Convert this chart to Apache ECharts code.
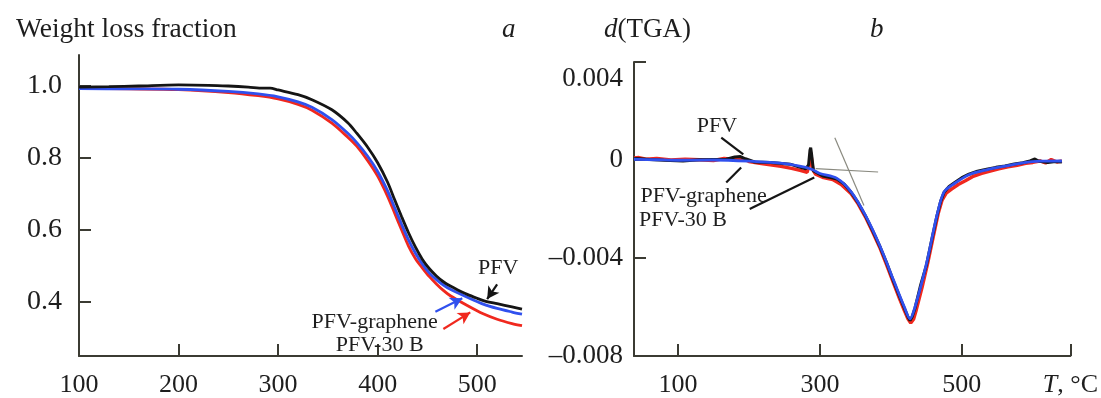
<!DOCTYPE html>
<html><head><meta charset="utf-8">
<script src="https://cdn.jsdelivr.net/npm/echarts@6/dist/echarts.min.js"></script>
<style>html,body{margin:0;padding:0;background:#fff}#c{width:1101px;height:398px}</style>
</head><body><div id="c"></div>
<script>
// ---------- Panel a: weight loss fraction vs T ----------
const aTicksX = [100, 200, 300, 400, 500];
const aTicksY = [0.4, 0.6, 0.8, 1.0];
const aBlackT = [100,130,160,200,230,250,270,285,292,300,320,334,354,370,379,390,400,410,417,424,431,438,445,452,459,466,473,480,490,500,507,520,535,545];
const aBlackW = [0.996,0.997,0.999,1.002,1.001,0.999,0.996,0.993,0.993,0.988,0.975,0.961,0.933,0.897,0.868,0.829,0.786,0.732,0.684,0.637,0.592,0.552,0.518,0.492,0.472,0.456,0.444,0.434,0.421,0.410,0.403,0.395,0.386,0.380];
const aBlueT = [100,150,200,250,280,300,320,334,354,370,379,390,400,410,417,424,431,438,445,452,459,466,473,490,506,520,535,545];
const aBlueW = [0.992,0.991,0.990,0.984,0.977,0.969,0.955,0.940,0.906,0.868,0.842,0.804,0.762,0.708,0.662,0.616,0.572,0.535,0.505,0.480,0.462,0.447,0.435,0.413,0.394,0.382,0.372,0.366];
const aRedT = [100,150,200,250,280,300,320,334,354,370,379,390,400,410,417,424,431,438,445,452,459,466,473,490,506,520,535,545];
const aRedW = [0.992,0.991,0.989,0.981,0.972,0.963,0.948,0.932,0.896,0.857,0.832,0.792,0.749,0.693,0.647,0.600,0.555,0.520,0.494,0.470,0.450,0.432,0.417,0.390,0.367,0.352,0.340,0.334];
// annotation labels and arrows (data coordinates)
const aLabels = [['PFV', 521, 0.494], ['PFV-graphene', 397, 0.344], ['PFV-30 B', 402, 0.279]];
const aArrowBlack = [[520, 0.449], [510, 0.408]];
const aArrowBlue = [[458, 0.373], [485, 0.410]];
const aArrowRed = [[466, 0.325], [493, 0.371]];

// ---------- Panel b: d(TGA) vs T ----------
const bTicksX = [100, 300, 500, 653];
const bLabelsX = [100, 300, 500, 653];
const bBlackT = [38,42,60,80,107,130,150,168,180,188,195,208,230,258,270,280,284,286,287,288,290,291,304,315,324,334,344,354,364,374,384,394,404,412,419,424,427,430,434,442,450,458,465,470,475,482,490,500,510,522,535,548,561,574,586,596,603,608,621,632,641];
const bBlackV = [0.00005,0.00006,0.00002,-0.00001,-0.00004,0.00001,0.00002,0.00003,0.00012,0.00014,0.00005,-0.00008,-0.00010,-0.00017,-0.00028,-0.00036,-0.00020,0.00040,0.00050,0.00030,-0.00020,-0.00045,-0.00065,-0.00072,-0.00078,-0.00098,-0.00132,-0.00175,-0.00227,-0.00286,-0.00349,-0.00420,-0.00497,-0.00555,-0.00605,-0.00640,-0.00655,-0.00640,-0.00605,-0.00510,-0.00430,-0.00320,-0.00227,-0.00170,-0.00132,-0.00108,-0.00092,-0.00072,-0.00058,-0.00046,-0.00038,-0.00030,-0.00024,-0.00016,-0.00011,-0.00004,0.00004,-0.00004,-0.00010,-0.00006,-0.00008];
const bRedT = [38,45,55,70,90,110,130,150,165,180,190,200,215,230,245,260,272,282,286,287,288,290,294,305,318,330,344,354,364,374,384,394,404,412,419,424,428,432,436,444,452,460,467,472,478,486,495,505,515,528,540,552,565,578,590,600,610,618,626,634,641];
const bRedV = [0.00008,0.00010,0.00003,0.00006,0.00000,0.00003,0.00001,-0.00002,0.00006,0.00002,0.00008,-0.00006,-0.00014,-0.00020,-0.00026,-0.00034,-0.00042,-0.00050,-0.00010,0.00030,0.00010,-0.00040,-0.00058,-0.00072,-0.00080,-0.00100,-0.00138,-0.00180,-0.00232,-0.00292,-0.00355,-0.00428,-0.00505,-0.00565,-0.00615,-0.00648,-0.00665,-0.00650,-0.00610,-0.00520,-0.00420,-0.00310,-0.00215,-0.00165,-0.00135,-0.00118,-0.00100,-0.00085,-0.00068,-0.00055,-0.00045,-0.00036,-0.00028,-0.00022,-0.00014,-0.00010,-0.00004,-0.00012,0.00002,-0.00008,-0.00004];
const bBlueT = [38,70,100,150,200,250,280,290,300,324,344,364,384,404,419,427,434,450,465,475,490,510,535,561,586,610,641];
const bBlueV = [0.00003,0.00001,-0.00001,0.00000,-0.00005,-0.00015,-0.00030,-0.00040,-0.00055,-0.00075,-0.00130,-0.00225,-0.00347,-0.00492,-0.00600,-0.00648,-0.00600,-0.00425,-0.00225,-0.00130,-0.00095,-0.00060,-0.00040,-0.00025,-0.00012,-0.00005,-0.00004];
const bLabels = [['PFV', 155, 0.00138], ['PFV-graphene', 136, -0.00147], ['PFV-30 B', 107, -0.00244]];
const bLinePFV = [[161, 0.00091], [192, 0.00023]];
const bLineGraphene = [[189, -0.00031], [168, -0.00092]];
const bLine30B = [[201, -0.00200], [292, -0.00071]];
const bTangent1 = [[294, -0.00035], [382, -0.00049]];
const bTangent2 = [[321, 0.00091], [362, -0.00186]];

const FONT = 'Liberation Serif';
const AX = '#3b3b33';
const TXT = '#1e1e1e';
const BLACK = '#151515', RED = '#f0281e', BLUE = '#3050ee';

const zip = (t, v) => t.map((x, i) => [x, v[i]]);
const arrowLine = (pts, color, arrow) => ({
  silent: true, symbol: ['none', arrow ? 'arrow' : 'none'], symbolSize: [10, 12],
  label: {show: false}, lineStyle: {color: color, width: 2.2, type: 'solid'},
  data: [[{coord: pts[0]}, {coord: pts[1]}]]
});
const textPoints = (labels) => ({
  silent: true, symbol: 'circle', symbolSize: 0,
  label: {show: true, position: 'inside', color: TXT, fontFamily: FONT, fontSize: 22, formatter: p => p.name},
  data: labels.map(l => ({name: l[0], coord: [l[1], l[2]]}))
});
const dash = v => String(v).replace('-', '\u2013');
const segment = (pts, color, width) => [{coord: pts[0], lineStyle: {color: color, width: width, type: 'solid'}}, {coord: pts[1]}];

const chart = echarts.init(document.getElementById('c'), null, {renderer: 'canvas'});
chart.setOption({
  backgroundColor: '#fff',
  animation: false,
  title: [
    {text: 'Weight loss fraction', left: 11, top: 11, textStyle: {fontFamily: FONT, fontSize: 27.5, fontWeight: 'normal', color: TXT}},
    {text: 'a', left: 497, top: 11, textStyle: {fontFamily: FONT, fontSize: 27, fontStyle: 'italic', fontWeight: 'normal', color: TXT}},
    {text: '{i|d}(TGA)', left: 599, top: 11, textStyle: {fontFamily: FONT, fontSize: 27, fontWeight: 'normal', color: TXT,
      rich: {i: {fontFamily: FONT, fontSize: 27, fontStyle: 'italic', color: TXT}}}},
    {text: 'b', left: 865, top: 11, textStyle: {fontFamily: FONT, fontSize: 27, fontStyle: 'italic', fontWeight: 'normal', color: TXT}}
  ],
  grid: [
    {left: 79, top: 55, width: 443, height: 302},
    {left: 634, top: 62, width: 438, height: 296}
  ],
  xAxis: [
    {type: 'value', gridIndex: 0, min: 100, max: 545,
      axisLine: {show: true, onZero: false, lineStyle: {color: AX, width: 2}},
      axisTick: {show: true, inside: true, length: 12, customValues: aTicksX.slice(1), lineStyle: {color: AX, width: 2}},
      axisLabel: {customValues: aTicksX, margin: 16, fontFamily: FONT, fontSize: 26, color: TXT},
      splitLine: {show: false}},
    {type: 'value', gridIndex: 1, min: 38, max: 653,
      axisLine: {show: true, onZero: false, lineStyle: {color: AX, width: 2}},
      axisTick: {show: true, inside: true, length: 12, customValues: bTicksX, lineStyle: {color: AX, width: 2}},
      axisLabel: {customValues: bLabelsX, margin: 16, fontFamily: FONT, fontSize: 26, color: TXT,
        formatter: v => v === 653 ? '{i|T}, \u00b0C' : String(v),
        rich: {i: {fontFamily: FONT, fontSize: 26, fontStyle: 'italic', color: TXT}}},
      splitLine: {show: false}}
  ],
  yAxis: [
    {type: 'value', gridIndex: 0, min: 0.25, max: 1.085,
      axisLine: {show: true, onZero: false, lineStyle: {color: AX, width: 2}},
      axisTick: {show: true, inside: true, length: 12, customValues: aTicksY, lineStyle: {color: AX, width: 2}},
      axisLabel: {customValues: aTicksY, margin: 17, fontFamily: FONT, fontSize: 28, color: TXT, formatter: v => v.toFixed(1)},
      splitLine: {show: false}},
    {type: 'value', gridIndex: 1, min: -0.008, max: 0.004, interval: 0.004,
      axisLine: {show: true, onZero: false, lineStyle: {color: AX, width: 2}},
      axisTick: {show: true, inside: true, length: 12, lineStyle: {color: AX, width: 2}},
      axisLabel: {margin: 11, fontFamily: FONT, fontSize: 27, color: TXT,
        formatter: v => {
          if (Math.abs(v) < 1e-9) return '0';
          const s = dash(v.toFixed(3));
          return v > 0 ? '{lo|' + s + '}' : s;
        },
        rich: {lo: {fontFamily: FONT, fontSize: 27, color: TXT, padding: [34, 0, 0, 0]}}},
      splitLine: {show: false}}
  ],
  series: [
    {name: 'PFV-30 B a', type: 'line', xAxisIndex: 0, yAxisIndex: 0, data: zip(aRedT, aRedW), showSymbol: false, smooth: 0.3,
      lineStyle: {color: RED, width: 2.8}, markLine: arrowLine(aArrowRed, RED, true)},
    {name: 'PFV-graphene a', type: 'line', xAxisIndex: 0, yAxisIndex: 0, data: zip(aBlueT, aBlueW), showSymbol: false, smooth: 0.3,
      lineStyle: {color: BLUE, width: 2.8}, markLine: arrowLine(aArrowBlue, BLUE, true)},
    {name: 'PFV a', type: 'line', xAxisIndex: 0, yAxisIndex: 0, data: zip(aBlackT, aBlackW), showSymbol: false, smooth: 0.3,
      lineStyle: {color: BLACK, width: 2.8}, markLine: arrowLine(aArrowBlack, BLACK, true), markPoint: textPoints(aLabels)},

    {name: 'PFV-30 B b', type: 'line', xAxisIndex: 1, yAxisIndex: 1, data: zip(bRedT, bRedV), showSymbol: false,
      lineStyle: {color: RED, width: 3.4}},
    {name: 'PFV b', type: 'line', xAxisIndex: 1, yAxisIndex: 1, data: zip(bBlackT, bBlackV), showSymbol: false,
      lineStyle: {color: BLACK, width: 3}, markPoint: textPoints(bLabels)},
    {name: 'PFV-graphene b', type: 'line', xAxisIndex: 1, yAxisIndex: 1, data: zip(bBlueT, bBlueV), showSymbol: false, smooth: 0.3,
      lineStyle: {color: BLUE, width: 2.8}},
    {name: 'annotations b', type: 'line', xAxisIndex: 1, yAxisIndex: 1, data: [], showSymbol: false,
      markLine: {silent: true, symbol: ['none', 'none'], label: {show: false},
        lineStyle: {type: 'solid'},
        data: [
          segment(bLinePFV, BLACK, 2.2),
          segment(bLineGraphene, BLACK, 2.2),
          segment(bLine30B, BLACK, 2.2),
          segment(bTangent1, '#8a8a80', 1.2),
          segment(bTangent2, '#8a8a80', 1.2)
        ]}}
  ]
});
</script></body></html>
